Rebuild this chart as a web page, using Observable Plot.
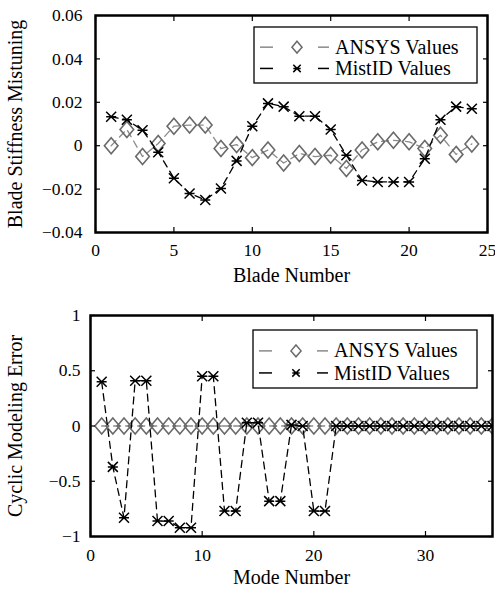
<!DOCTYPE html>
<html>
<head>
<meta charset="utf-8">
<script src="https://cdn.jsdelivr.net/npm/d3@7"></script>
<script src="https://cdn.jsdelivr.net/npm/@observablehq/plot@0.6"></script>
<style>
  body { margin: 0; background: #fff; }
  #chart { position: relative; width: 495px; height: 589px; }
  #chart svg { display: block; font-family: "Liberation Serif", "DejaVu Serif", serif !important; }
  #chart svg text { font-family: "Liberation Serif", "DejaVu Serif", serif !important; }
  #chart svg .legend-text { font-size: 20px !important; }
</style>
</head>
<body>
<div id="chart"></div>
<script>
// ---------- data ----------
const blades = [1,2,3,4,5,6,7,8,9,10,11,12,13,14,15,16,17,18,19,20,21,22,23,24];
const ansysStiffness = [0.0, 0.0075, -0.005, 0.001, 0.009, 0.0095, 0.0095, -0.0013, 0.0005, -0.0055, -0.002, -0.008,
                        -0.0036, -0.005, -0.0044, -0.0105, -0.002, 0.0018, 0.0025, 0.0018, -0.0013, 0.0048, -0.004, 0.0008];
const mistidStiffness = [0.0133, 0.012, 0.0071, -0.003, -0.015, -0.022, -0.025, -0.0197, -0.007, 0.009, 0.0195, 0.018,
                         0.0136, 0.0136, 0.0075, -0.0044, -0.016, -0.0167, -0.0167, -0.0167, -0.006, 0.012, 0.018, 0.017];

const modes = [1,2,3,4,5,6,7,8,9,10,11,12,13,14,15,16,17,18,19,20,21,22,23,24,25,26,27,28,29,30,31,32,33,34,35,36];
const ansysError = [0,0,0,0,0,0,0,0,0,0,0,0,0,0,0,0,0,0,0,0,0,0,0,0,0,0,0,0,0,0,0,0,0,0,0,0];
const mistidError = [0.4, -0.37, -0.83, 0.41, 0.41, -0.86, -0.86, -0.92, -0.92, 0.45, 0.45, -0.77, -0.77, 0.03, 0.03,
                     -0.68, -0.68, 0.01, 0.0, -0.77, -0.77, 0, 0, 0, 0, 0, 0, 0, 0, 0, 0, 0, 0, 0, 0, 0];

const seriesNames = ["ANSYS Values", "MistID Values"];
const topXTicks = [0, 5, 10, 15, 20, 25];
const topYTicks = [-0.04, -0.02, 0, 0.02, 0.04, 0.06];
const botXTicks = [0, 10, 20, 30];
const botYTicks = [-1, -0.5, 0, 0.5, 1];

// ---------- styling ----------
const FONT = "Liberation Serif";
const GRAY = "#6a6a6a";
const GRAYLINE = "#8a8a8a";

const diamondSym = {draw(ctx, size) {
  const r = Math.sqrt(size / Math.PI); const w = r * 0.85;
  ctx.moveTo(0, -r); ctx.lineTo(w, 0); ctx.lineTo(0, r); ctx.lineTo(-w, 0); ctx.closePath();
}};
const starSym = {draw(ctx, size) {
  const r = Math.sqrt(size / Math.PI);
  ctx.moveTo(-r, -r); ctx.lineTo(r, r);
  ctx.moveTo(-r, r); ctx.lineTo(r, -r);
  ctx.moveTo(-r, 0); ctx.lineTo(r, 0);
}};

const fmtNum = d => d === 0 ? "0" : String(d).replace("-", "\u2212");

function makeChart(o) {
  const a = o.xs.map((x, i) => ({x, y: o.a[i]}));
  const b = o.xs.map((x, i) => ({x, y: o.b[i]}));
  return Plot.plot({
    width: 495, height: o.height,
    marginLeft: o.ml, marginRight: o.mr, marginTop: o.mt, marginBottom: o.mb,
    style: {fontFamily: FONT, fontSize: "17px", color: "black", background: "white"},
    x: {domain: o.xDomain},
    y: {domain: o.yDomain},
    marks: [
      Plot.line(a, {x: "x", y: "y", stroke: GRAYLINE, strokeWidth: 1.3, strokeDasharray: "7,5", clip: true}),
      Plot.dot(a, {x: "x", y: "y", symbol: diamondSym, r: 8, stroke: GRAY, strokeWidth: 1.6, fill: "none", clip: true}),
      Plot.line(b, {x: "x", y: "y", stroke: "black", strokeWidth: 1.3, strokeDasharray: "7,5", clip: true}),
      Plot.dot(b, {x: "x", y: "y", symbol: starSym, r: 5, stroke: "black", strokeWidth: 1.5, clip: true}),
      Plot.axisX(o.xTicks, {anchor: "bottom", tickSize: 0, tickPadding: o.xPad, fontSize: 17.5, fontFamily: FONT, label: null}),
      Plot.axisX({anchor: "bottom", ticks: [], tickSize: 0, label: o.xLabel, labelAnchor: "center", labelArrow: "none",
        labelOffset: o.xLabelOffset, fontSize: 20, fontFamily: FONT}),
      Plot.axisX(o.xTicks, {anchor: "bottom", tickSize: -5, text: null, label: null, strokeWidth: 1.2}),
      Plot.axisX(o.xTicks, {anchor: "top", tickSize: -5, text: null, label: null, strokeWidth: 1.2}),
      Plot.axisY(o.yTicks, {anchor: "left", tickSize: 0, tickPadding: o.yPad, fontSize: 17.5, fontFamily: FONT, tickFormat: fmtNum, label: null}),
      Plot.axisY({anchor: "left", ticks: [], tickSize: 0, label: o.yLabel, labelAnchor: "center", labelArrow: "none",
        labelOffset: o.yLabelOffset, fontSize: 20, fontFamily: FONT}),
      Plot.axisY(o.yTicks, {anchor: "left", tickSize: -5, text: null, label: null, strokeWidth: 1.2}),
      Plot.axisY(o.yTicks, {anchor: "right", tickSize: -5, text: null, label: null, strokeWidth: 1.2}),
      Plot.frame({stroke: "black", strokeWidth: 2.5})
    ]
  });
}

function addLegend(svg, box) {
  const g = d3.select(svg).append("g").attr("text-anchor", "start");
  g.append("rect").attr("x", box.x).attr("y", box.y).attr("width", box.w).attr("height", box.h)
    .attr("fill", "white").attr("stroke", "black").attr("stroke-width", 1.3);
  const rows = [
    {name: seriesNames[0], color: GRAYLINE, mcolor: GRAY, sym: diamondSym, r: 8, y: box.y + box.h * 0.36},
    {name: seriesNames[1], color: "black", mcolor: "black", sym: starSym, r: 5, y: box.y + box.h * 0.74}
  ];
  const x0 = box.x;
  for (const row of rows) {
    g.append("line").attr("x1", x0 + 6).attr("x2", x0 + 19).attr("y1", row.y).attr("y2", row.y)
      .attr("stroke", row.color).attr("stroke-width", 1.5);
    g.append("line").attr("x1", x0 + 64).attr("x2", x0 + 75).attr("y1", row.y).attr("y2", row.y)
      .attr("stroke", row.color).attr("stroke-width", 1.5);
    g.append("path").attr("transform", `translate(${x0 + 43},${row.y})`)
      .attr("d", d3.symbol(row.sym, Math.PI * row.r * row.r * 0.55)())
      .attr("fill", "none").attr("stroke", row.mcolor).attr("stroke-width", 1.5);
    g.append("text").attr("class", "legend-text").attr("x", x0 + 81).attr("y", row.y).attr("dy", "0.33em")
      .attr("fill", "black").attr("text-anchor", "start").style("font-size", "20px").text(row.name);
  }
}

const topChart = makeChart({
  height: 290, ml: 95, mr: 8, mt: 15, mb: 58,
  xs: blades, a: ansysStiffness, b: mistidStiffness,
  xDomain: [0, 25], yDomain: [-0.04, 0.06], xTicks: topXTicks, yTicks: topYTicks,
  xLabel: "Blade Number", xLabelOffset: 49, xPad: 11, yLabel: "Blade Stiffness Mistuning", yLabelOffset: 88, yPad: 13
});
const bottomChart = makeChart({
  height: 299, ml: 90, mr: 3, mt: 25, mb: 53,
  xs: modes, a: ansysError, b: mistidError,
  xDomain: [0, 36], yDomain: [-1, 1], xTicks: botXTicks, yTicks: botYTicks,
  xLabel: "Mode Number", xLabelOffset: 47, xPad: 12, yLabel: "Cyclic Modeling Error", yLabelOffset: 83, yPad: 10
});
addLegend(topChart, {x: 254, y: 27, w: 223, h: 56});
addLegend(bottomChart, {x: 253, y: 40, w: 224, h: 58});
document.getElementById("chart").append(topChart, bottomChart);
</script>
</body>
</html>
